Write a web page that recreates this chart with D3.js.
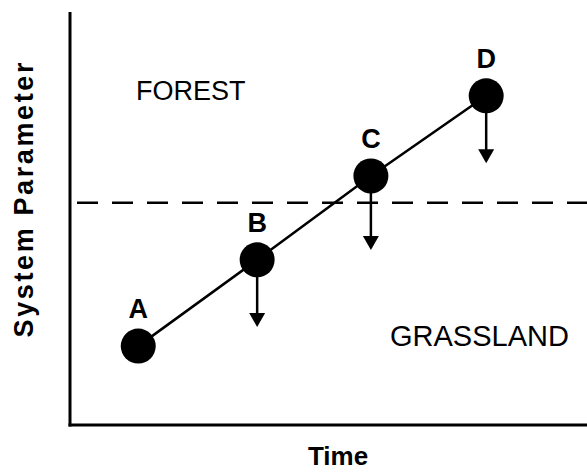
<!DOCTYPE html>
<html>
<head>
<meta charset="utf-8">
<script src="https://cdn.jsdelivr.net/npm/d3@7"></script>
<style>
  body { margin: 0; background: #fff; }
  text { font-family: "Liberation Sans", Arial, sans-serif; fill: #000; }
</style>
</head>
<body>
<svg width="587" height="472"></svg>
<script>
// states along the trajectory
const stateLabels = ['A', 'B', 'C', 'D'];
const timeValues = [1.32, 3.62, 5.82, 8.05];
const paramValues = [1.91, 4.0, 6.03, 7.97];
// where each downward arrow ends (no arrow for A)
const arrowEnds = [null, 2.37, 4.24, 6.34];
const threshold = 5.38;

(function (d3) {
    const svg = d3.select('svg');
    const width = +svg.attr('width');
    const height = +svg.attr('height');

    const margin = { left: 70, top: 12, right: 0, bottom: 47 };

    const x = d3.scaleLinear()
        .domain([0, 10])
        .range([margin.left, width - margin.right]);
    const y = d3.scaleLinear()
        .domain([0, 10])
        .range([height - margin.bottom, margin.top]);

    const points = stateLabels.map((lab, i) => ({
        label: lab, t: timeValues[i], v: paramValues[i], end: arrowEnds[i]
    }));

    // threshold line between forest and grassland
    svg.append('line')
        .attr('x1', x(0) + 7)
        .attr('x2', width)
        .attr('y1', y(threshold))
        .attr('y2', y(threshold))
        .attr('stroke', '#000')
        .attr('stroke-width', 2.5)
        .attr('stroke-dasharray', '21 14');

    // axes, no ticks
    svg.append('line')
        .attr('x1', x(0)).attr('x2', x(0))
        .attr('y1', y(10)).attr('y2', y(0) + 1.5)
        .attr('stroke', '#000').attr('stroke-width', 3);
    svg.append('line')
        .attr('x1', x(0) - 1.5).attr('x2', width)
        .attr('y1', y(0)).attr('y2', y(0))
        .attr('stroke', '#000').attr('stroke-width', 3);

    // trajectory
    const line = d3.line()
        .x(d => x(d.t))
        .y(d => y(d.v));
    svg.append('path')
        .datum(points)
        .attr('d', line)
        .attr('fill', 'none')
        .attr('stroke', '#000')
        .attr('stroke-width', 2.5);

    const r = 17.5;
    const headH = 14;
    const headW = 8;

    // downward arrows
    const arrows = svg.selectAll('g.arrow')
        .data(points.filter(d => d.end !== null))
        .join('g')
        .attr('class', 'arrow');
    arrows.append('line')
        .attr('x1', d => x(d.t)).attr('x2', d => x(d.t))
        .attr('y1', d => y(d.v))
        .attr('y2', d => y(d.end) - headH + 1)
        .attr('stroke', '#000')
        .attr('stroke-width', 2.5);
    arrows.append('path')
        .attr('d', d => {
            const cx = x(d.t), ty = y(d.end);
            return `M${cx - headW},${ty - headH}L${cx + headW},${ty - headH}L${cx},${ty}Z`;
        })
        .attr('fill', '#000');

    // state circles
    svg.selectAll('circle')
        .data(points)
        .join('circle')
        .attr('cx', d => x(d.t))
        .attr('cy', d => y(d.v))
        .attr('r', r)
        .attr('fill', '#000');

    svg.selectAll('text.state')
        .data(points)
        .join('text')
        .attr('class', 'state')
        .attr('x', d => x(d.t))
        .attr('y', d => y(d.v) - 28)
        .attr('text-anchor', 'middle')
        .attr('font-size', 27)
        .attr('font-weight', 'bold')
        .text(d => d.label);

    // region names
    svg.append('text')
        .attr('x', 136)
        .attr('y', 100)
        .attr('font-size', 27)
        .text('FOREST');
    svg.append('text')
        .attr('x', 390)
        .attr('y', 346)
        .attr('font-size', 29)
        .text('GRASSLAND');

    // axis titles
    svg.append('text')
        .attr('x', 338)
        .attr('y', 465)
        .attr('text-anchor', 'middle')
        .attr('font-size', 26)
        .attr('font-weight', 'bold')
        .text('Time');
    svg.append('text')
        .attr('transform', 'translate(33, 200) rotate(-90)')
        .attr('text-anchor', 'middle')
        .attr('font-size', 27)
        .attr('font-weight', 'bold')
        .attr('textLength', 275)
        .attr('lengthAdjust', 'spacing')
        .text('System Parameter');
}(d3));
</script>
</body>
</html>
